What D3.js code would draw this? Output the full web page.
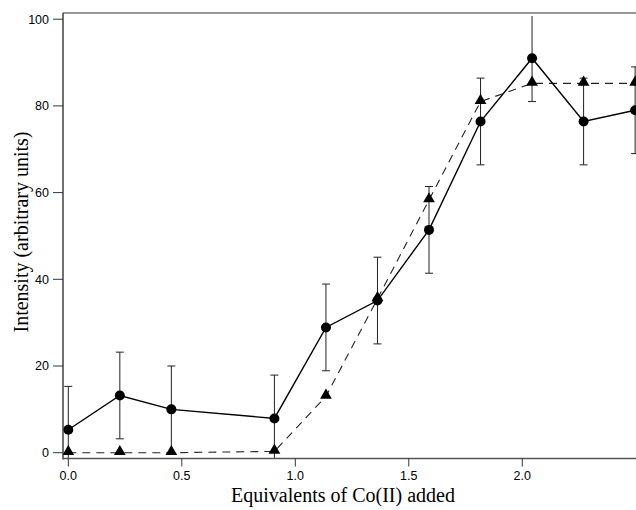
<!DOCTYPE html>
<html><head><meta charset="utf-8">
<script src="https://cdn.jsdelivr.net/npm/d3@7"></script>
<style>body{margin:0;background:#fff}svg{display:block}</style>
</head><body>
<svg id="c" width="636" height="510"></svg>
<script>
const xCircle = [0, 0.227, 0.454, 0.908, 1.135, 1.362, 1.589, 1.816, 2.043, 2.27, 2.497];
const yCircle = [5.3, 13.2, 10.0, 7.9, 28.9, 35.1, 51.4, 76.4, 91.0, 76.4, 79.0];
const errCircle = [10, 10, 10, 10, 10, 10, 10, 10, 10, 10, 10];
const xTri = [0, 0.227, 0.454, 0.908, 1.135, 1.362, 1.589, 1.816, 2.043, 2.27, 2.497];
const yTri = [0, 0, 0, 0.3, 13.0, 35.5, 58.3, 81.0, 85.2, 85.2, 85.2];
const xTicks = [0, 0.5, 1.0, 1.5, 2.0];
const yTicks = [0, 20, 40, 60, 80, 100];
const xTitle = "Equivalents of Co(II) added";
const yTitle = "Intensity (arbitrary units)";

(function () {
const svg = d3.select("#c");
const x = d3.scaleLinear().domain([0, 2.5]).range([68.3, 635.8]);
const y = d3.scaleLinear().domain([0, 100]).range([452.7, 19.2]);
const pL = 63, pT = 13, pB = 458.5, pR = 640;

svg.append("defs").append("clipPath").attr("id","clip")
  .append("rect").attr("x", pL).attr("y", pT + 3).attr("width", pR - pL).attr("height", pB - pT - 3);

svg.append("line").attr("x1", pL).attr("x2", pR).attr("y1", pT).attr("y2", pT)
  .attr("stroke", "#333").attr("stroke-width", 1.2);

const eb = svg.append("g").attr("clip-path", "url(#clip)").attr("stroke", "#222").attr("stroke-width", 1);
xCircle.forEach((xv, i) => {
  const cx = x(xv), hi = yCircle[i] + errCircle[i], lo = yCircle[i] - errCircle[i];
  eb.append("line").attr("x1", cx).attr("x2", cx).attr("y1", y(hi)).attr("y2", y(lo));
  if (hi <= 100) eb.append("line").attr("x1", cx - 4).attr("x2", cx + 4).attr("y1", y(hi)).attr("y2", y(hi));
  if (lo >= 0) eb.append("line").attr("x1", cx - 4).attr("x2", cx + 4).attr("y1", y(lo)).attr("y2", y(lo));
});

const line = d3.line().x(d => x(d[0])).y(d => y(d[1]));
svg.append("path").datum(xTri.map((v, i) => [v, yTri[i]]))
  .attr("d", line).attr("fill", "none").attr("stroke", "#222").attr("stroke-width", 1.1)
  .attr("stroke-dasharray", "8,6");

svg.append("path").datum(xCircle.map((v, i) => [v, yCircle[i]]))
  .attr("d", line).attr("fill", "none").attr("stroke", "#000").attr("stroke-width", 1.4);

svg.append("g").selectAll("circle").data(xCircle).join("circle")
  .attr("cx", d => x(d)).attr("cy", (d, i) => y(yCircle[i])).attr("r", 5).attr("fill", "#000");

const tri = d3.symbol().type(d3.symbolTriangle).size(60);
svg.append("g").selectAll("path").data(xTri).join("path")
  .attr("d", tri).attr("transform", (d, i) => `translate(${x(d)},${y(yTri[i]) - 1})`).attr("fill", "#000");

svg.append("line").attr("x1", pL).attr("x2", pL).attr("y1", pT).attr("y2", pB + 1)
  .attr("stroke", "#222").attr("stroke-width", 1.3);
const yg = svg.append("g");
yTicks.forEach(t => {
  yg.append("line").attr("x1", pL - 10).attr("x2", pL).attr("y1", y(t)).attr("y2", y(t))
    .attr("stroke", "#333").attr("stroke-width", 1);
  yg.append("text").attr("x", pL - 14).attr("y", y(t)).attr("dy", "0.35em")
    .attr("text-anchor", "end").attr("font-family", "Liberation Sans, Arial, sans-serif")
    .attr("font-size", 12.5).text(t);
});

svg.append("line").attr("x1", pL).attr("x2", pR).attr("y1", pB).attr("y2", pB)
  .attr("stroke", "#555").attr("stroke-width", 1.3);
const xg = svg.append("g");
xTicks.forEach(t => {
  xg.append("line").attr("x1", x(t)).attr("x2", x(t)).attr("y1", pB).attr("y2", pB + 8)
    .attr("stroke", "#333").attr("stroke-width", 1);
  xg.append("text").attr("x", x(t)).attr("y", 480)
    .attr("text-anchor", "middle").attr("font-family", "Liberation Sans, Arial, sans-serif")
    .attr("font-size", 12.5).text(d3.format(".1f")(t));
});

svg.append("text").attr("x", 343).attr("y", 502).attr("text-anchor", "middle")
  .attr("font-family", "Liberation Serif, Times New Roman, serif").attr("font-size", 20).text(xTitle);
svg.append("text").attr("transform", "translate(28,232) rotate(-90)").attr("text-anchor", "middle")
  .attr("font-family", "Liberation Serif, Times New Roman, serif").attr("font-size", 20).text(yTitle);
})();
</script>
</body></html>
